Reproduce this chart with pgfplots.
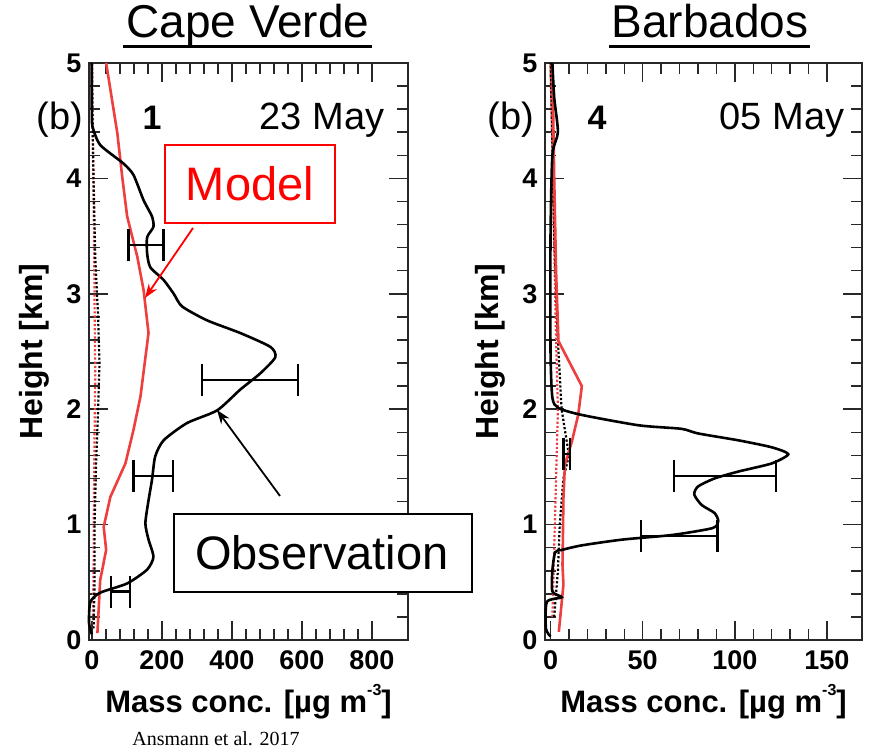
\documentclass[border=0pt]{standalone}
\usepackage{pgfplots}
\pgfplotsset{compat=1.18}
\usetikzlibrary{arrows.meta}
\usepackage{fontspec}
\setmainfont{Liberation Sans}
\newfontfamily\serif{Liberation Serif}
\definecolor{modred}{RGB}{238,62,62}
\definecolor{boxred}{RGB}{255,0,0}
\definecolor{framegray}{RGB}{40,40,40}

\pgfplotstableread{
x y
0 5.0
0 4.6
2 4.45
24 4.29
90 4.13
119 4.03
148 3.81
172 3.67
176 3.58
158 3.49
158 3.35
167 3.23
205 3.12
234 3.00
258 2.89
329 2.77
424 2.66
510 2.54
524 2.45
481 2.31
424 2.17
358 1.99
272 1.88
205 1.73
181 1.59
172 1.39
162 1.21
153 1.01
162 0.87
176 0.72
158 0.61
101 0.49
24 0.41
-4 0.33
-8 0.15
0 0.05
}\cvobs

\pgfplotstableread{
x y
41 5.0
73 4.39
87 4.01
101 3.67
130 3.32
148 3.03
162 2.66
139 2.11
119 1.82
96 1.53
53 1.24
34 0.98
41 0.78
24 0.52
16 0.06
}\cvmod

\pgfplotstableread{
x y
5 0.1
8 0.5
8 1.0
12 1.5
18 2.0
22 2.4
18 2.8
10 3.3
5 4.0
2 4.5
0 5.0
}\cvdotk

\pgfplotstableread{
x y
3 0.1
5 0.6
6 1.2
8 1.8
10 2.3
8 2.9
6 3.6
3 4.3
1 5.0
}\cvdotr

\pgfplotstableread{
x y
1 5.0
2 4.7
4 4.4
1 4.2
0 3.5
0 2.5
1 2.1
4.3 2.01
17 1.95
48 1.86
71 1.83
80 1.79
102 1.73
120 1.67
129 1.61
120 1.53
102 1.46
89 1.40
80 1.33
78 1.26
82 1.17
89 1.10
91 1.03
88 0.97
66 0.91
39 0.87
17 0.82
6 0.78
2.5 0.76
1 0.6
1 0.42
6 0.37
-2 0.33
-2.5 0.1
0 0.03
}\bbobs

\pgfplotstableread{
x y
1 5.0
2 4.0
3 3.2
4.3 2.59
17 2.20
15 1.95
11.6 1.72
7.8 1.52
7 1.23
6.5 0.65
7 0.48
4.5 0.07
}\bbmod

\pgfplotstableread{
x y
2 0.2
4 0.6
5 1.0
7 1.4
10 1.6
6 2.0
4 2.6
2 3.5
1 4.3
0 5.0
}\bbdotk

\pgfplotstableread{
x y
1 0.2
2 0.8
3 1.4
4 2.0
3 2.6
2 3.4
1 4.2
0 5.0
}\bbdotr

\pgfplotsset{
  panel/.style={
    scale only axis,
    ymin=0, ymax=5,
    ytick={0,1,2,3,4,5},
    minor x tick num=4,
    minor y tick num=4,
    tick align=inside,
    major tick length=19pt,
    minor tick length=11pt,
    every tick/.style={line width=1.5pt, framegray},
    axis line style={line width=1.6pt, framegray},
    /pgf/number format/assume math mode=true,
    tick label style={font=\fontsize{27}{27}\selectfont\bfseries},
    xticklabel style={yshift=-7pt},
    yticklabel style={xshift=-4pt},
    xlabel style={font=\fontsize{31}{31}\selectfont\bfseries, yshift=-8pt},
    ylabel style={font=\fontsize{32}{32}\selectfont\bfseries, yshift=10pt},
    xlabel={Mass conc. [\textmu g m\raisebox{0.55em}{\fontsize{16}{16}\selectfont -3}]},
    ylabel={Height [km]},
    clip=false,
  },
  obs/.style={black, line width=2.6pt, smooth, tension=0.4},
  mod/.style={modred, line width=2.6pt},
  dk/.style={black, line width=2.2pt, dotted},
  dr/.style={modred, line width=2.2pt, dotted},
  eb/.style={draw=none, mark=none,
    error bars/.cd, x dir=both, x explicit,
    error bar style={line width=2.2pt, black, solid},
    error mark=|,
    error mark options={mark size=16pt, line width=2.2pt, black}},
}

\begin{document}
\begin{tikzpicture}[x=1pt,y=1pt]
\useasboundingbox (0,0) rectangle (871,754);

\begin{axis}[panel, at={(89pt,114pt)}, anchor=south west,
  width=319pt, height=577pt,
  xmin=-8, xmax=903, xtick={0,200,400,600,800}]
\addplot[dr] table {\cvdotr};
\addplot[dk] table {\cvdotk};
\addplot[mod] table {\cvmod};
\addplot[obs] table {\cvobs};
\addplot[eb] coordinates {(155,3.42) +- (50,0) (452,2.25) +- (137,0) (176,1.42) +- (57,0) (82,0.42) +- (28,0)};
\end{axis}

\begin{axis}[panel, at={(545pt,114pt)}, anchor=south west,
  width=317pt, height=577pt,
  xmin=-3, xmax=169, xtick={0,50,100,150}]
\addplot[dr] table {\bbdotr};
\addplot[dk] table {\bbdotk};
\addplot[mod] table {\bbmod};
\addplot[obs] table {\bbobs};
\addplot[eb] coordinates {(94.6,1.42) +- (27.8,0) (69.8,0.90) +- (20.8,0) (8.8,1.61) +- (1.8,0)};
\end{axis}

% titles
\node[anchor=base, font=\fontsize{46}{46}\selectfont] at (248,716) {Cape Verde};
\draw[line width=3pt] (123,707) -- (372,707);
\node[anchor=base, font=\fontsize{46}{46}\selectfont] at (710,716) {Barbados};
\draw[line width=3pt] (609,707) -- (810,707);

% panel annotations
\node[anchor=base, font=\fontsize{38}{38}\selectfont] at (60,624) {(b)};
\node[anchor=base, font=\fontsize{34}{34}\selectfont\bfseries] at (152,624) {1};
\node[anchor=base, font=\fontsize{38}{38}\selectfont] at (322,624) {23 May};
\node[anchor=base, font=\fontsize{38}{38}\selectfont] at (511,624) {(b)};
\node[anchor=base, font=\fontsize{34}{34}\selectfont\bfseries] at (597,624) {4};
\node[anchor=base, font=\fontsize{38}{38}\selectfont] at (782,624) {05 May};

% Model box
\draw[boxred, line width=1.5pt, fill=white] (165,531) rectangle (335,609);
\node[boxred, font=\fontsize{47}{47}\selectfont] at (250,570) {Model};
\draw[boxred, line width=1.8pt, -{Stealth[length=14pt,width=10pt]}] (193,526) -- (145,456);

% Observation box
\draw[black, line width=1.5pt, fill=white] (174,162) rectangle (472,240);
\node[black, font=\fontsize{47}{47}\selectfont] at (322,201) {Observation};
\draw[black, line width=1.8pt, -{Stealth[length=14pt,width=10pt]}] (280,258) -- (217,344);

% source
\node[anchor=base, font=\serif\fontsize{20}{20}\selectfont] at (216,8) {Ansmann et al. 2017};
\end{tikzpicture}
\end{document}
